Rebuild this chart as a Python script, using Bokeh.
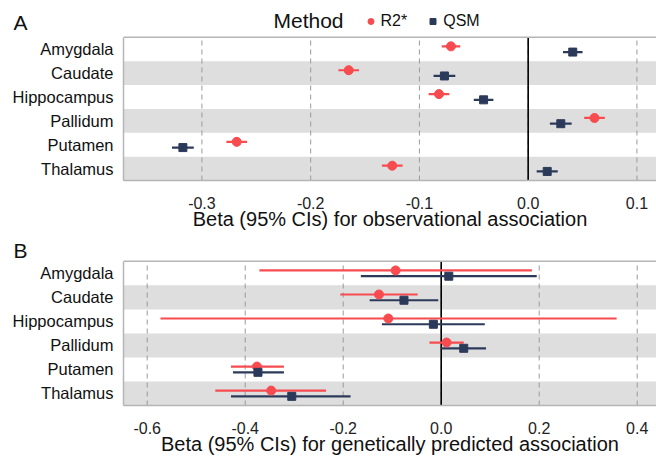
from bokeh.plotting import figure
from bokeh.models import (Range1d, FixedTicker, PrintfTickFormatter, LinearAxis,
                          Span, Label, Legend, LegendItem, ColumnDataSource)
from bokeh.transform import dodge
from bokeh.layouts import column
from bokeh.embed import file_html
from bokeh.resources import INLINE

regions = ["Amygdala", "Caudate", "Hippocampus", "Pallidum", "Putamen", "Thalamus"]
band_regions = ["Caudate", "Pallidum", "Thalamus"]
methods = ["R2*", "QSM"]

# Panel A: observational association
obs_r2_beta = [-0.071, -0.165, -0.082, 0.061, -0.268, -0.125]
obs_r2_lo = [-0.0795, -0.1745, -0.0915, 0.0515, -0.2775, -0.1345]
obs_r2_hi = [-0.0625, -0.1555, -0.0725, 0.0705, -0.2585, -0.1155]
obs_qsm_beta = [0.041, -0.077, -0.041, 0.030, -0.3175, 0.0175]
obs_qsm_lo = [0.032, -0.087, -0.050, 0.020, -0.3275, 0.0078]
obs_qsm_hi = [0.050, -0.067, -0.032, 0.040, -0.3075, 0.0272]
obs_ticks = [-0.3, -0.2, -0.1, 0.0, 0.1]

# Panel B: genetically predicted association
gen_r2_beta = [-0.093, -0.127, -0.108, 0.011, -0.376, -0.347]
gen_r2_lo = [-0.371, -0.206, -0.573, -0.024, -0.429, -0.461]
gen_r2_hi = [0.185, -0.048, 0.358, 0.046, -0.321, -0.235]
gen_qsm_beta = [0.0155, -0.076, -0.016, 0.046, -0.374, -0.305]
gen_qsm_lo = [-0.164, -0.146, -0.121, 0.0, -0.425, -0.429]
gen_qsm_hi = [0.195, -0.006, 0.089, 0.0915, -0.321, -0.185]
gen_ticks = [-0.6, -0.4, -0.2, 0.0, 0.2, 0.4]

RED = "#F74B50"
NAVY = "#2C3A5A"
BORDER = "#B5B5B5"
FONT = "Liberation Sans"
W = 656
N = len(regions)
ypos = [N - i for i in range(N)]          # Amygdala at top
row_of = dict(zip(regions, ypos))


def make_panel(height, bottom, ytop, xr, ticks, title, r2, qsm, letter, letter_y,
               lab_standoff, title_standoff, legend=False):
    p = figure(width=W, height=height, output_backend="svg", toolbar_location=None,
               x_range=Range1d(*xr), y_range=Range1d(0.5, ytop),
               min_border_left=123, min_border_right=0, min_border_top=0,
               min_border_bottom=bottom)
    p.background_fill_color = "white"
    p.border_fill_color = "white"
    p.outline_line_color = None
    p.grid.visible = False

    lo_row, hi_row = 0.5, N + 0.5
    # alternating bands
    p.hbar(y=[row_of[r] for r in band_regions], left=xr[0], right=xr[1], height=1.0,
           fill_color="#DEDEDE", line_color=None, level="image")
    # dashed vertical grid lines at the ticks
    p.segment(x0=ticks, x1=ticks, y0=lo_row, y1=hi_row, line_color="#9A9A9A",
              line_dash="5 4", line_width=1, level="underlay")
    # zero line
    p.segment(x0=[0], x1=[0], y0=lo_row, y1=hi_row, line_color="black", line_width=1.6)
    # top border of the panel
    p.add_layout(Span(location=hi_row, dimension="width", line_color=BORDER, line_width=1.5))

    xa = p.xaxis[0]
    xa.ticker = FixedTicker(ticks=ticks)
    xa.formatter = PrintfTickFormatter(format="%.1f")
    ya = p.yaxis[0]
    ya.ticker = FixedTicker(ticks=ypos)
    ya.major_label_overrides = {y: r for y, r in zip(ypos, regions)}
    ya.bounds = (lo_row, hi_row)
    ya.axis_label = None
    for ax in (xa, ya):
        ax.axis_line_color = BORDER
        ax.axis_line_width = 1.5
        ax.major_tick_line_color = None
        ax.minor_tick_line_color = None
        ax.major_tick_out = 0
        ax.major_tick_in = 0
        ax.minor_tick_out = 0
        ax.major_label_text_font = FONT
    xa.major_label_text_color = "#222222"
    xa.major_label_text_font_size = "16px"
    xa.major_label_standoff = lab_standoff
    xa.axis_label = title
    xa.axis_label_text_font = FONT
    xa.axis_label_text_font_size = "20px"
    xa.axis_label_text_font_style = "normal"
    xa.axis_label_text_color = "#111111"
    xa.axis_label_standoff = title_standoff
    ya.major_label_text_font_size = "16.5px"
    ya.major_label_standoff = 10
    ya.major_label_text_color = "#111111"

    # panel letter as an extra left axis with one tick in the header area
    la = LinearAxis(ticker=FixedTicker(ticks=[letter_y]),
                    major_label_overrides={letter_y: letter}, axis_label=None,
                    axis_line_color=None, major_tick_line_color=None,
                    minor_tick_line_color=None, major_tick_out=0, major_tick_in=0,
                    minor_tick_out=0, minor_tick_in=0,
                    major_label_standoff=-18,
                    major_label_text_font=FONT, major_label_text_font_size="21px",
                    major_label_text_color="#111111")
    p.add_layout(la, "left")

    beta, lo, hi = r2
    src_r = ColumnDataSource(dict(y=ypos, beta=beta, lo=lo, hi=hi))
    beta, lo, hi = qsm
    src_q = ColumnDataSource(dict(y=ypos, beta=beta, lo=lo, hi=hi))
    yr = dodge("y", 0.12)
    yq = dodge("y", -0.12)
    p.segment(x0="lo", x1="hi", y0=yr, y1=yr, source=src_r, line_color=RED, line_width=2.2)
    p.segment(x0="lo", x1="hi", y0=yq, y1=yq, source=src_q, line_color=NAVY, line_width=2.2)
    rr = p.scatter(x="beta", y=yr, source=src_r, marker="circle", size=9,
                   fill_color=RED, line_color=RED)
    rq = p.scatter(x="beta", y=yq, source=src_q, marker="square", size=8,
                   fill_color=NAVY, line_color=NAVY)

    if legend:
        p.add_layout(Label(x=150, y=160.5, x_units="screen", y_units="screen", text="Method",
                           text_font=FONT, text_font_size="21px", text_color="#111111",
                           text_baseline="alphabetic"))
        lg = Legend(items=[LegendItem(label=methods[0], renderers=[rr]),
                           LegendItem(label=methods[1], renderers=[rq])],
                    location=(239.5, 150), orientation="horizontal",
                    border_line_color=None, background_fill_alpha=0,
                    padding=0, margin=0, spacing=18, label_standoff=3,
                    glyph_width=15, glyph_height=16, label_height=16,
                    label_text_font=FONT, label_text_font_size="16px",
                    label_text_color="#111111")
        p.add_layout(lg)
    return p


pa = make_panel(232, 51, 0.5 + 181 / 24.0, (-0.3721, 0.118), obs_ticks,
                "Beta (95% CIs) for observational association",
                (obs_r2_beta, obs_r2_lo, obs_r2_hi), (obs_qsm_beta, obs_qsm_lo, obs_qsm_hi),
                "A", 7.13, 16, -4, legend=True)
pb = make_panel(225, 51, 0.5 + 174 / 24.17, (-0.6484, 0.4394), gen_ticks,
                "Beta (95% CIs) for genetically predicted association",
                (gen_r2_beta, gen_r2_lo, gen_r2_hi), (gen_qsm_beta, gen_qsm_lo, gen_qsm_hi),
                "B", 6.93, 16, -4)

layout = column(pa, pb, spacing=0)
open("out.html", "w").write(file_html(layout, INLINE))
